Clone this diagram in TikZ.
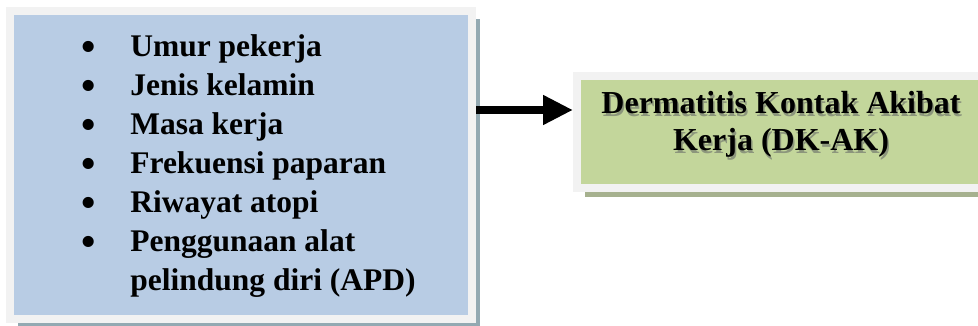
\documentclass[tikz,border=0pt]{standalone}
\usepackage{fontspec}
\setmainfont{Liberation Serif}
\usetikzlibrary{arrows.meta,shadows}
\definecolor{bingkai}{HTML}{F2F2F2}
\definecolor{biru}{HTML}{B8CCE4}
\definecolor{bayangbiru}{HTML}{93A9B2}
\definecolor{hijau}{HTML}{C3D69B}
\definecolor{bayanghijau}{HTML}{A6B18F}
\definecolor{bayangteks}{HTML}{8C967C}
\newcommand\teksbayang[1]{\makebox[0pt][l]{\color{bayangteks}\raisebox{-2.5pt}{\hspace{1.5pt}#1}}#1}
\newcommand\butir{\raisebox{-4pt}{\scalebox{1.3}{\textbullet}}}
\begin{document}
\begin{tikzpicture}[x=1pt,y=-1pt,
    kotak/.style={draw=bingkai,line width=8pt,inner sep=0pt},
    panah/.style={line width=8pt,-{Triangle[length=30pt,width=28pt]}}]
    \useasboundingbox (0,0) rectangle (978,326);
    \clip (0,0) rectangle (978,326);

    \coordinate (tinggi) at (0,110);

    \node (faktor) [kotak,fill=biru,minimum width=462pt,minimum height=308pt,
        drop shadow={shadow xshift=8pt,shadow yshift=-8pt,fill=bayangbiru,opacity=1}] at (241,165) {};
    \node (dkak) [kotak,fill=hijau,minimum width=408pt,minimum height=112pt,
        drop shadow={shadow xshift=8pt,shadow yshift=-9pt,fill=bayanghijau,opacity=1}] at (781,132) {};

    \node (daftar) [anchor=base west,inner sep=0pt,font=\fontsize{31.5}{39}\selectfont\bfseries] at (80.8,57)
        {\begin{tabular}[t]{@{}l@{\hspace{35pt}}l@{}}
        \butir & Umur pekerja\\
        \butir & Jenis kelamin\\
        \butir & Masa kerja\\
        \butir & Frekuensi paparan\\
        \butir & Riwayat atopi\\
        \butir & Penggunaan alat\\
               & pelindung diri (APD)
        \end{tabular}};
    \node (judul) [inner sep=0pt,align=center,font=\fontsize{32}{37}\selectfont\bfseries] at (781,126)
        {\teksbayang{Dermatitis Kontak Akibat}\\ \teksbayang{Kerja (DK-AK)}};

    \draw[panah] (faktor.east |- tinggi) -- (dkak.west |- tinggi);
\end{tikzpicture}
\end{document}
